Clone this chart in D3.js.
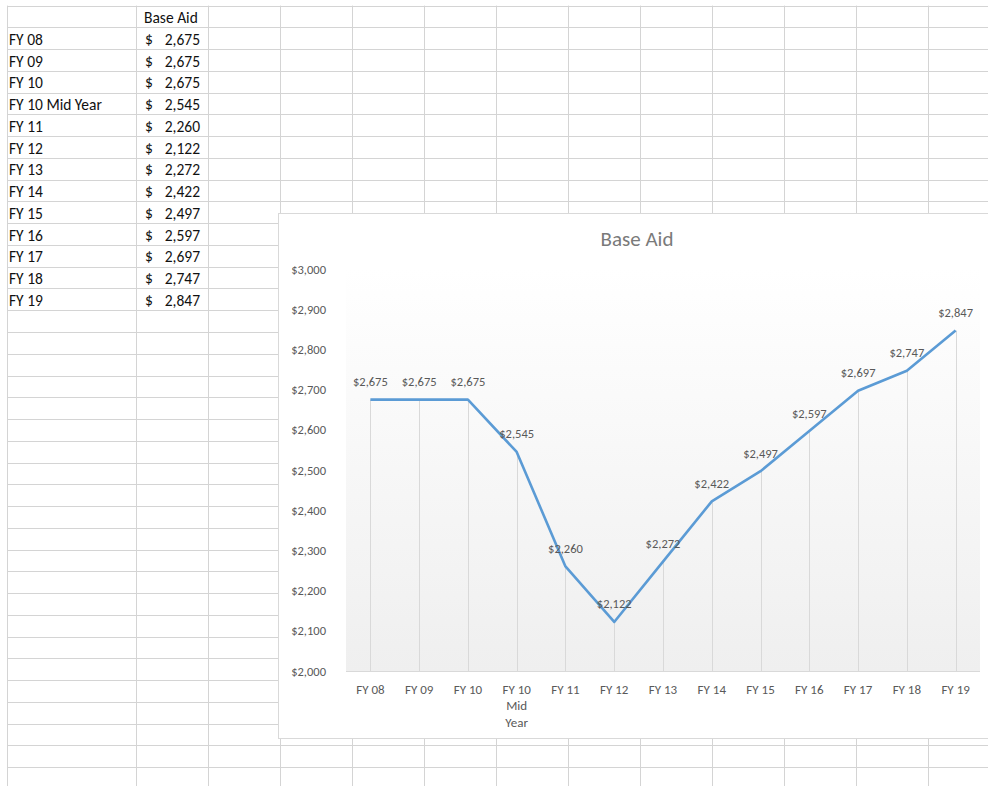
<!DOCTYPE html>
<html lang="en">
<head>
<meta charset="UTF-8">
<title>Base Aid</title>
<style>
  html, body { margin: 0; padding: 0; background: #fff; overflow: hidden; }
  svg { display: block; font-family: Carlito, Lato, "Open Sans", sans-serif; }
</style>
</head>
<body>
<div id="chart"></div>
<script src="https://d3js.org/d3.v7.min.js"></script>
<script>
  // data read from the sheet / chart
  const years = ['FY 08', 'FY 09', 'FY 10', 'FY 10 Mid Year', 'FY 11', 'FY 12', 'FY 13',
                 'FY 14', 'FY 15', 'FY 16', 'FY 17', 'FY 18', 'FY 19']
  const baseAid = [2675, 2675, 2675, 2545, 2260, 2122, 2272, 2422, 2497, 2597, 2697, 2747, 2847]
  const yTicks = [2000, 2100, 2200, 2300, 2400, 2500, 2600, 2700, 2800, 2900, 3000]
  const title = 'Base Aid'

  const width = 988
  const height = 786
  const svg = d3.select('#chart').append('svg')
    .attr('width', width)
    .attr('height', height)

  // ---- spreadsheet grid ----
  const gridTop = 5.6
  const rowH = 21.76
  const colX = [7, 136, 208]
  for (let x = 280; x <= width + 72; x += 72) colX.push(x)
  const rowY = d3.range(0, 37).map(i => gridTop + i * rowH)

  const grid = svg.append('g').attr('stroke', '#d4d4d4').attr('stroke-width', 1)
  grid.selectAll('line.v')
    .data(colX)
    .enter().append('line')
    .attr('x1', d => Math.round(d) + .5).attr('x2', d => Math.round(d) + .5)
    .attr('y1', gridTop).attr('y2', height)
  grid.selectAll('line.h')
    .data(rowY)
    .enter().append('line')
    .attr('y1', d => Math.round(d) + .5).attr('y2', d => Math.round(d) + .5)
    .attr('x1', colX[0]).attr('x2', width)

  const fmtTable = d3.format(',')
  const cells = svg.append('g').attr('font-size', 15.5).attr('fill', '#111')
  cells.append('text').attr('x', 144).attr('y', gridTop + rowH / 2 + 6.5).text('Base Aid')
  years.forEach((name, i) => {
    const cy = gridTop + (i + 1.5) * rowH + 6.5
    cells.append('text').attr('x', 9).attr('y', cy).text(name)
    cells.append('text').attr('x', 145).attr('y', cy).text('$')
    cells.append('text').attr('x', 200).attr('y', cy).attr('text-anchor', 'end')
      .text(fmtTable(baseAid[i]))
  })

  // ---- embedded chart ----
  const box = { x: 278, y: 213, w: 720, h: 525 }
  svg.append('rect')
    .attr('x', box.x + 1).attr('y', box.y + 1)
    .attr('width', box.w).attr('height', box.h)
    .attr('fill', '#e6e6e6')
  svg.append('rect')
    .attr('x', box.x + .5).attr('y', box.y + .5)
    .attr('width', box.w).attr('height', box.h)
    .attr('fill', '#fff').attr('stroke', '#d9d9d9')

  const plot = { left: 346, right: 980, top: 269, bottom: 671 }

  const defs = svg.append('defs')
  const grad = defs.append('linearGradient')
    .attr('id', 'plotFill').attr('x1', 0).attr('y1', 0).attr('x2', 0).attr('y2', 1)
  grad.append('stop').attr('offset', '0%').attr('stop-color', '#ffffff')
  grad.append('stop').attr('offset', '100%').attr('stop-color', '#efefef')

  svg.append('rect')
    .attr('x', plot.left).attr('y', plot.top)
    .attr('width', plot.right - plot.left).attr('height', plot.bottom - plot.top)
    .attr('fill', 'url(#plotFill)')

  svg.append('text')
    .attr('x', 637).attr('y', 246)
    .attr('text-anchor', 'middle')
    .attr('font-size', 21)
    .attr('fill', '#7a7a7a')
    .text(title)

  const x = d3.scaleBand()
    .domain(years)
    .range([plot.left, plot.right])
    .padding(0)
  const cx = d => x(d) + x.bandwidth() / 2

  const y = d3.scaleLinear()
    .domain([2000, 3000])
    .range([plot.bottom, plot.top])

  // vertical gridlines at categories
  svg.append('g')
    .selectAll('line')
    .data(years)
    .enter().append('line')
    .attr('x1', d => Math.round(cx(d)) + .5).attr('x2', d => Math.round(cx(d)) + .5)
    .attr('y1', d => y(baseAid[years.indexOf(d)])).attr('y2', plot.bottom)
    .attr('stroke', '#d9d9d9')

  // x axis line
  svg.append('line')
    .attr('x1', plot.left).attr('x2', plot.right)
    .attr('y1', plot.bottom + .5).attr('y2', plot.bottom + .5)
    .attr('stroke', '#d9d9d9')

  // y axis labels
  const fmtMoney = d => '$' + d3.format(',')(d)
  svg.append('g')
    .selectAll('text')
    .data(yTicks)
    .enter().append('text')
    .attr('x', 326)
    .attr('y', d => y(d) + 4.5)
    .attr('text-anchor', 'end')
    .attr('font-size', 12.5)
    .attr('fill', '#595959')
    .text(fmtMoney)

  // x axis labels (wrapped like Excel)
  const xLab = svg.append('g')
    .selectAll('text')
    .data(years)
    .enter().append('text')
    .attr('x', d => cx(d))
    .attr('y', 693.5)
    .attr('text-anchor', 'middle')
    .attr('font-size', 13)
    .attr('fill', '#595959')
  xLab.each(function (d) {
    const parts = d === 'FY 10 Mid Year' ? ['FY 10', 'Mid', 'Year'] : [d]
    d3.select(this).selectAll('tspan')
      .data(parts)
      .enter().append('tspan')
      .attr('x', cx(d))
      .attr('dy', (_, i) => i === 0 ? 0 : 16.7)
      .text(p => p)
  })

  // the line
  const line = d3.line()
    .x((_, i) => cx(years[i]))
    .y(d => y(d))
  svg.append('path')
    .datum(baseAid)
    .attr('d', line)
    .attr('fill', 'none')
    .attr('stroke', '#5b9bd5')
    .attr('stroke-width', 2.6)
    .attr('stroke-linejoin', 'round')

  // data labels
  svg.append('g')
    .selectAll('text')
    .data(baseAid)
    .enter().append('text')
    .attr('x', (_, i) => cx(years[i]))
    .attr('y', d => y(d) - 13.5)
    .attr('text-anchor', 'middle')
    .attr('font-size', 12.5)
    .attr('fill', '#595959')
    .text(fmtMoney)
</script>
</body>
</html>
